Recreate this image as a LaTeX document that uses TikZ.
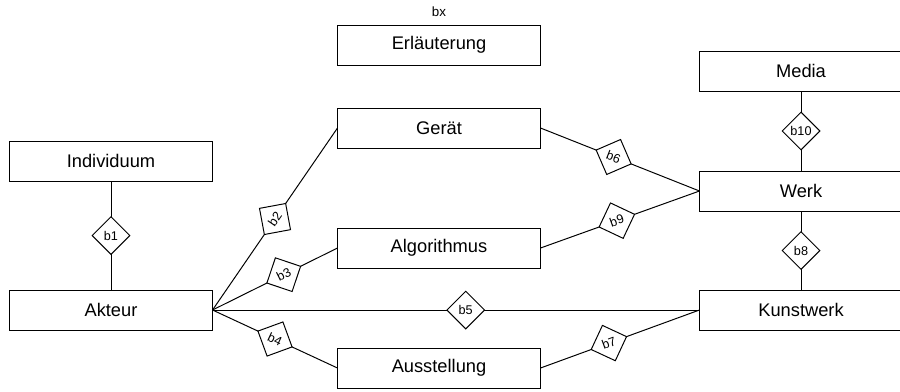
\documentclass[tikz,border=0pt]{standalone}
\usepackage{fontspec}
\setmainfont{Liberation Sans}
\usetikzlibrary{shapes.geometric}

\begin{document}
\begin{tikzpicture}[x=0.025cm, y=-0.025cm, line width=0.7pt,
        entity/.style={draw, minimum width=5.05cm, minimum height=1cm, inner sep=0pt, font=\fontsize{13}{15}\selectfont},
        rel/.style={draw, diamond, aspect=1, fill=white, minimum size=0.95cm, inner sep=0pt, font=\fontsize{9}{10}\selectfont}]
            \useasboundingbox (0,0) rectangle (900,391);

            \node (bx) at (439,12) {\fontsize{9.5}{11}\selectfont bx};
            \node[entity] (erl) at (439,45) {Erläuterung};

            \node[entity] (individuum) at (111,161) {Individuum};
            \node[entity] (akteur) at (111,310) {Akteur};
            \node[entity] (geraet) at (439,128) {Gerät};
            \node[entity] (algorithmus) at (439,248) {Algorithmus};
            \node[entity] (ausstellung) at (439,368) {Ausstellung};
            \node[entity] (media) at (801,71) {Media};
            \node[entity] (werk) at (801,191) {Werk};
            \node[entity] (kunstwerk) at (801,310) {Kunstwerk};

            \draw (individuum.south) -- node[rel] (b1) {b1} (akteur.north);
            \draw (akteur.east) -- node[rel, sloped] (b2) {b2} (geraet.west);
            \draw (akteur.east) -- node[rel, sloped, pos=0.57] (b3) {b3} (algorithmus.west);
            \draw (akteur.east) -- node[rel, sloped] (b4) {b4} (ausstellung.west);
            \draw (akteur.east) -- node[rel, pos=0.52] (b5) {b5} (kunstwerk.west);
            \draw (geraet.east) -- node[rel, sloped, pos=0.46] (b6) {b6} (werk.west);
            \draw (ausstellung.east) -- node[rel, sloped, pos=0.43] (b7) {b7} (kunstwerk.west);
            \draw (werk.south) -- node[rel] (b8) {b8} (kunstwerk.north);
            \draw (algorithmus.east) -- node[rel, sloped, pos=0.48] (b9) {b9} (werk.west);
            \draw (media.south) -- node[rel] (b10) {b10} (werk.north);
        \end{tikzpicture}
\end{document}
